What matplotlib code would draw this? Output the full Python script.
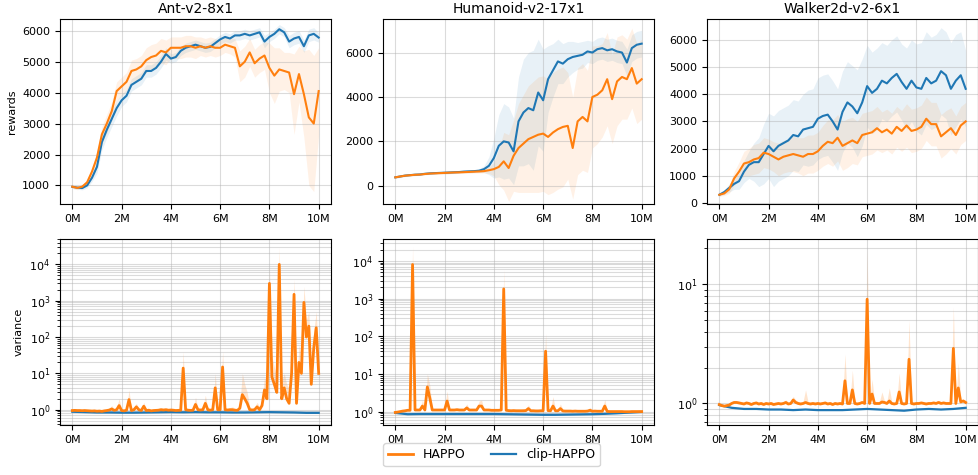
import numpy as np
import matplotlib
matplotlib.use('Agg')
import matplotlib.pyplot as plt
from matplotlib.ticker import FuncFormatter, MultipleLocator

plt.rcParams.update({'font.family': 'DejaVu Sans', 'font.size': 8})

C_HAPPO, C_CLIP = '#ff7f0e', '#1f77b4'
TITLES = ['Ant-v2-8x1', 'Humanoid-v2-17x1', 'Walker2d-v2-6x1']

# rewards, sampled every 0.2M steps (0M .. 10M)
STEP_R = np.arange(51) * 0.2
ant_clip = [955, 930, 915, 1000, 1250, 1600, 2400, 2800, 3150, 3500,
            3750, 3900, 4250, 4350, 4450, 4700, 4700, 4800, 5000, 5250,
            5100, 5150, 5350, 5450, 5500, 5550, 5500, 5450, 5480, 5600,
            5720, 5800, 5750, 5850, 5850, 5900, 5850, 5900, 5950, 5650,
            5800, 5900, 6050, 5950, 5650, 5750, 5800, 5500, 5850, 5900, 5780]
ant_clip_sd = [50, 50, 60, 80, 120, 200, 250, 250, 250, 250,
               200, 200, 200, 200, 200, 200, 200, 200, 200, 200,
               150, 150, 150, 150, 150, 150, 150, 150, 150, 150,
               150, 150, 150, 150, 150, 150, 150, 150, 150, 200,
               150, 150, 150, 150, 200, 200, 200, 200, 200, 200, 150]
ant_happo = [960, 920, 960, 1100, 1450, 1900, 2650, 3000, 3400, 4050,
             4200, 4350, 4700, 4750, 4850, 5050, 5150, 5200, 5350, 5300,
             5450, 5450, 5450, 5500, 5500, 5450, 5500, 5450, 5500, 5450,
             5450, 5550, 5500, 5450, 4850, 5000, 5300, 4950, 5100, 5200,
             4800, 4550, 4750, 4700, 4650, 3950, 4600, 3950, 3200, 3000, 4050]
ant_happo_sd = [60, 60, 60, 80, 120, 200, 250, 300, 300, 300,
                300, 300, 350, 350, 350, 400, 400, 400, 400, 400,
                350, 350, 350, 350, 350, 350, 300, 300, 300, 300,
                250, 250, 250, 300, 500, 500, 450, 450, 450, 450,
                800, 900, 700, 600, 650, 1300, 900, 1400, 2200, 2200, 1400]

hum_clip = [380, 420, 460, 480, 500, 510, 540, 560, 570, 580,
            590, 600, 610, 620, 640, 650, 660, 680, 750, 900,
            1250, 1800, 2000, 1950, 1550, 2900, 3300, 3500, 3400, 4200,
            3850, 4800, 5200, 5600, 5500, 5700, 5800, 5850, 5900, 6050,
            6000, 6150, 6200, 6100, 6150, 6050, 6000, 5550, 6200, 6350, 6400]
hum_clip_sd = [40, 40, 40, 40, 40, 40, 40, 40, 40, 40,
               50, 50, 50, 50, 50, 60, 60, 80, 150, 400,
               900, 1400, 1700, 1600, 1500, 2000, 2400, 2500, 2700, 2400,
               2300, 1500, 1200, 1000, 900, 800, 700, 600, 600, 500,
               500, 500, 500, 500, 500, 500, 500, 600, 600, 600, 600]
hum_happo = [380, 420, 455, 475, 495, 505, 530, 550, 560, 570,
             580, 590, 600, 605, 615, 625, 635, 645, 660, 700,
             750, 850, 1100, 800, 1350, 1700, 1900, 2100, 2200, 2300,
             2350, 2200, 2400, 2550, 2650, 2700, 1700, 2900, 3100, 2900,
             4000, 4100, 4300, 4800, 3900, 4700, 4900, 4800, 5300, 4600, 4800]
hum_happo_sd = [40, 40, 40, 40, 40, 40, 40, 40, 40, 40,
                50, 50, 50, 50, 50, 60, 60, 70, 80, 150,
                300, 800, 1300, 1500, 1600, 2000, 2200, 2400, 2500, 2600,
                2600, 2600, 2700, 2700, 2700, 2400, 2300, 2400, 2400, 2300,
                2300, 2200, 2100, 2100, 2000, 2000, 1900, 1800, 1800, 1800, 1800]

wlk_clip = [300, 400, 550, 700, 800, 1150, 1400, 1500, 1500, 1800,
            2100, 1900, 2100, 2200, 2300, 2500, 2450, 2700, 2750, 2800,
            3100, 3200, 3250, 3000, 2700, 3350, 3700, 3550, 3300, 3700,
            4300, 4050, 4200, 4500, 4400, 4600, 4750, 4450, 4200, 4500,
            4250, 4200, 4600, 4400, 4500, 4850, 4700, 4200, 4500, 4700, 4200]
wlk_clip_sd = [50, 80, 150, 200, 300, 400, 500, 700, 900, 1100,
               1200, 1300, 1300, 1300, 1300, 1300, 1300, 1300, 1400, 1400,
               1500, 1500, 1500, 1500, 1500, 1500, 1500, 1500, 1600, 1600,
               1500, 1500, 1500, 1400, 1400, 1400, 1400, 1400, 1500, 1500,
               1600, 1700, 1700, 1700, 1700, 1600, 1600, 1700, 1700, 1600, 1400]
wlk_happo = [300, 350, 500, 900, 1150, 1450, 1500, 1600, 1650, 1850,
             1800, 1700, 1600, 1700, 1750, 1800, 1750, 1700, 1800, 1800,
             1900, 2100, 2250, 2200, 2400, 2100, 2200, 2300, 2200, 2500,
             2550, 2600, 2750, 2600, 2700, 2550, 2800, 2650, 2850, 2650,
             2700, 2800, 3100, 2900, 2900, 2450, 2600, 2750, 2500, 2850, 3000]
wlk_happo_sd = [50, 80, 150, 250, 350, 450, 500, 550, 550, 550,
                550, 550, 600, 600, 600, 650, 650, 700, 700, 700,
                700, 750, 800, 850, 850, 900, 900, 850, 800, 800,
                800, 800, 800, 750, 750, 750, 750, 750, 800, 800,
                800, 800, 800, 800, 800, 800, 800, 750, 700, 700, 700]

# variance, HAPPO every 0.1M steps, clip-HAPPO every 0.5M steps
STEP_V = np.arange(101) * 0.1
STEP_VC = np.arange(21) * 0.5
ant_var_happo = [0.95, 0.96, 0.95, 0.95, 0.94, 0.95, 0.94, 0.93, 0.92, 0.93,
                 0.91, 0.92, 0.9, 0.93, 0.95, 0.98, 1.05, 0.96, 1.0, 1.3,
                 0.95, 0.93, 0.97, 1.9, 0.95, 1.0, 1.2, 1.0, 0.95, 1.25,
                 0.95, 0.97, 0.93, 0.95, 0.96, 0.97, 1.0, 0.98, 1.0, 0.97,
                 0.98, 0.97, 0.95, 0.96, 0.97, 14, 1.0, 0.97, 0.96, 0.97,
                 1.4, 1.0, 0.98, 1.0, 1.5, 1.0, 0.97, 1.0, 4.0, 1.0,
                 1.0, 15, 1.0, 0.98, 1.0, 1.0, 0.97, 0.96, 1.1, 2.6,
                 2.0, 1.5, 1.0, 0.98, 1.0, 1.2, 1.0, 1.3, 3.5, 2.0,
                 3000, 8, 5, 3, 1e4, 2, 4, 2, 1.5, 10,
                 1500, 1.5, 20, 10, 900, 100, 200, 5, 50, 180, 10]
ant_var_happo_hi = [1.02, 1.03, 1.02, 1.02, 1.01, 1.02, 1.01, 1.0, 0.99, 1.0,
                    0.98, 0.99, 0.97, 1.0, 1.05, 1.1, 1.3, 1.05, 1.2, 2.0,
                    1.05, 1.02, 1.1, 3.5, 1.05, 1.2, 1.5, 1.1, 1.05, 1.6,
                    1.05, 1.1, 1.02, 1.05, 1.06, 1.1, 1.15, 1.1, 1.12, 1.08,
                    1.1, 1.08, 1.05, 1.07, 1.1, 40, 1.15, 1.08, 1.06, 1.08,
                    2.2, 1.1, 1.1, 1.2, 2.5, 1.1, 1.08, 1.15, 10, 1.15,
                    1.15, 40, 1.15, 1.1, 1.15, 1.2, 1.1, 1.08, 1.4, 10,
                    5, 3, 1.2, 1.1, 1.2, 1.6, 1.2, 2, 8, 5,
                    8000, 30, 15, 8, 3e4, 6, 10, 5, 4, 30,
                    4000, 4, 60, 30, 2500, 300, 500, 15, 150, 500, 30]
ant_var_clip = [0.88, 0.86, 0.84, 0.84, 0.83, 0.83, 0.84, 0.85, 0.86, 0.85, 0.86,
                0.85, 0.85, 0.84, 0.84, 0.85, 0.86, 0.85, 0.84, 0.82, 0.82]

hum_var_happo = [0.95, 0.97, 1.0, 1.03, 1.05, 1.08, 1.08, 8000, 1.1, 1.1,
                 1.1, 1.4, 1.1, 4.5, 2.3, 1.1, 1.1, 1.1, 1.1, 1.1,
                 1.1, 1.9, 1.1, 1.1, 1.1, 1.12, 1.1, 1.1, 1.1, 1.25,
                 1.1, 1.1, 1.1, 1.1, 1.4, 1.4, 1.1, 1.1, 1.1, 1.08,
                 1.08, 1.08, 1.08, 1.1, 1800, 1.08, 1.06, 1.05, 1.06, 1.05,
                 1.05, 1.05, 1.05, 1.06, 1.2, 1.05, 1.05, 1.04, 1.04, 1.05,
                 1.05, 40, 1.06, 1.05, 1.4, 1.05, 1.05, 1.2, 1.04, 1.03,
                 1.03, 1.03, 1.02, 1.03, 1.02, 1.02, 1.02, 1.02, 1.03, 1.08,
                 1.02, 1.03, 1.02, 1.02, 1.02, 1.4, 1.01, 1.0, 1.0, 1.0,
                 1.0, 1.0, 1.0, 0.99, 0.99, 0.99, 1.0, 1.0, 1.0, 1.0, 1.0]
hum_var_happo_hi = [1.0, 1.02, 1.06, 1.1, 1.12, 1.15, 1.15, 25000, 1.2, 1.2,
                    1.2, 2.0, 1.2, 10, 5, 1.2, 1.2, 1.2, 1.2, 1.2,
                    1.2, 3.5, 1.2, 1.2, 1.2, 1.25, 1.2, 1.2, 1.2, 1.6,
                    1.2, 1.2, 1.2, 1.2, 1.9, 2.0, 1.2, 1.2, 1.2, 1.18,
                    1.18, 1.18, 1.18, 1.2, 6000, 1.18, 1.16, 1.15, 1.16, 1.15,
                    1.15, 1.15, 1.2, 1.16, 1.5, 1.15, 1.15, 1.14, 1.14, 1.15,
                    1.15, 120, 1.16, 1.15, 2.5, 1.15, 1.15, 1.6, 1.14, 1.12,
                    1.12, 1.12, 1.1, 1.12, 1.1, 1.1, 1.1, 1.1, 1.12, 1.3,
                    1.1, 1.12, 1.1, 1.1, 1.1, 2.1, 1.08, 1.06, 1.06, 1.05,
                    1.05, 1.05, 1.04, 1.03, 1.03, 1.03, 1.04, 1.04, 1.03, 1.03, 1.03]
hum_var_clip = [0.92, 0.85, 0.86, 0.86, 0.86, 0.86, 0.86, 0.86, 0.86, 0.85, 0.84,
                0.83, 0.82, 0.82, 0.83, 0.84, 0.85, 0.87, 0.9, 0.94, 0.98]

wlk_var_happo = [0.98, 0.96, 0.95, 0.96, 0.97, 1.0, 1.02, 1.02, 1.01, 1.0,
                 0.99, 1.01, 1.0, 0.98, 1.0, 1.01, 0.99, 1.0, 0.98, 1.0,
                 0.99, 1.0, 0.98, 0.99, 1.0, 0.99, 1.0, 1.02, 0.99, 1.0,
                 1.07, 1.02, 1.0, 0.99, 1.0, 1.02, 1.0, 0.99, 1.0, 0.99,
                 1.0, 0.99, 1.0, 1.01, 0.99, 1.0, 0.98, 1.0, 0.99, 1.0,
                 0.99, 1.55, 1.0, 1.0, 1.3, 1.0, 0.99, 1.0, 1.02, 1.0,
                 7.5, 1.0, 1.2, 1.0, 1.0, 1.0, 1.03, 1.02, 1.0, 1.05,
                 1.0, 0.99, 1.0, 1.25, 1.0, 0.99, 1.0, 2.35, 1.0, 0.99,
                 1.0, 1.0, 1.01, 1.0, 0.99, 1.0, 1.0, 1.01, 1.0, 1.02,
                 1.0, 1.01, 1.0, 1.0, 1.0, 2.9, 1.0, 1.35, 1.03, 1.05, 1.02]
wlk_var_happo_hi = [1.0, 0.99, 0.98, 0.99, 1.0, 1.04, 1.06, 1.06, 1.05, 1.04,
                    1.03, 1.05, 1.04, 1.02, 1.04, 1.05, 1.03, 1.04, 1.02, 1.04,
                    1.03, 1.04, 1.02, 1.03, 1.04, 1.03, 1.04, 1.07, 1.03, 1.04,
                    1.15, 1.07, 1.04, 1.03, 1.04, 1.3, 1.04, 1.03, 1.04, 1.03,
                    1.04, 1.03, 1.04, 1.05, 1.03, 1.04, 1.02, 1.04, 1.03, 1.04,
                    1.03, 2.6, 1.04, 1.04, 1.9, 1.04, 1.03, 1.04, 1.06, 1.04,
                    20, 1.04, 1.6, 1.04, 1.04, 1.04, 1.25, 1.06, 1.04, 1.35,
                    1.04, 1.03, 1.04, 1.8, 1.04, 1.03, 1.04, 5.0, 1.04, 1.03,
                    1.04, 1.04, 1.05, 1.04, 1.03, 1.04, 1.04, 1.05, 1.04, 1.06,
                    1.04, 1.05, 1.04, 1.04, 1.04, 6.5, 1.04, 2.2, 1.07, 1.09, 1.06]
wlk_var_clip = [0.97, 0.92, 0.9, 0.9, 0.89, 0.89, 0.88, 0.89, 0.88, 0.88, 0.88,
                0.89, 0.9, 0.89, 0.88, 0.87, 0.89, 0.9, 0.89, 0.9, 0.92]

rewards = [(ant_happo, ant_happo_sd, ant_clip, ant_clip_sd),
           (hum_happo, hum_happo_sd, hum_clip, hum_clip_sd),
           (wlk_happo, wlk_happo_sd, wlk_clip, wlk_clip_sd)]
variances = [(ant_var_happo, ant_var_happo_hi, ant_var_clip),
             (hum_var_happo, hum_var_happo_hi, hum_var_clip),
             (wlk_var_happo, wlk_var_happo_hi, wlk_var_clip)]
r_ylims = [(400, 6380), (-820, 7510), (-40, 6770)]
r_ystep = [1000, 2000, 1000]
v_ylims = [(0.38, 5e4), (0.44, 3.8e4), (0.66, 24)]

W, H = 979, 475
fig = plt.figure(figsize=(W / 100, H / 100), dpi=100)
lefts = [60, 383, 707]
aw = 271
mfmt = FuncFormatter(lambda v, p: f'{v:.0f}M')

for i in range(3):
    ax = fig.add_axes([lefts[i] / W, 1 - 204 / H, aw / W, 185 / H])
    hm, hs, cm, cs = [np.array(a, dtype=float) for a in rewards[i]]
    ax.fill_between(STEP_R, cm - cs, cm + cs, color=C_CLIP, alpha=0.1, lw=0)
    ax.fill_between(STEP_R, hm - hs, hm + hs, color=C_HAPPO, alpha=0.1, lw=0)
    ax.plot(STEP_R, cm, color=C_CLIP, lw=1.5)
    ax.plot(STEP_R, hm, color=C_HAPPO, lw=1.5)
    ax.set_ylim(*r_ylims[i])
    ax.yaxis.set_major_locator(MultipleLocator(r_ystep[i]))
    ax.xaxis.set_major_locator(MultipleLocator(2))
    ax.xaxis.set_major_formatter(mfmt)
    ax.grid(True, color='#b0b0b0', alpha=0.45, lw=0.8)
    ax.set_title(TITLES[i], fontsize=10, pad=4)
    if i == 0:
        ax.set_ylabel('rewards')

    ax = fig.add_axes([lefts[i] / W, 1 - 425 / H, aw / W, 186 / H])
    vm, vh, vc = [np.array(a, dtype=float) for a in variances[i]]
    ax.fill_between(STEP_V, vm, vh, color=C_HAPPO, alpha=0.2, lw=0)
    lc, = ax.plot(STEP_VC, vc, color=C_CLIP, lw=1.6)
    lh, = ax.plot(STEP_V, vm, color=C_HAPPO, lw=2.0)
    ax.set_yscale('log')
    ax.set_ylim(*v_ylims[i])
    ax.xaxis.set_major_locator(MultipleLocator(2))
    ax.xaxis.set_major_formatter(mfmt)
    ax.grid(True, which='both', axis='y', color='#b0b0b0', alpha=0.45, lw=0.8)
    ax.grid(True, which='major', axis='x', color='#b0b0b0', alpha=0.45, lw=0.8)
    if i == 0:
        ax.set_ylabel('variance')

fig.legend([lh, lc], ['HAPPO', 'clip-HAPPO'], loc='lower center',
           bbox_to_anchor=(0.502, 0.005), ncol=2, columnspacing=2.0,
           handlelength=2.0, fontsize=9)
fig.savefig('out.png', dpi=100)
